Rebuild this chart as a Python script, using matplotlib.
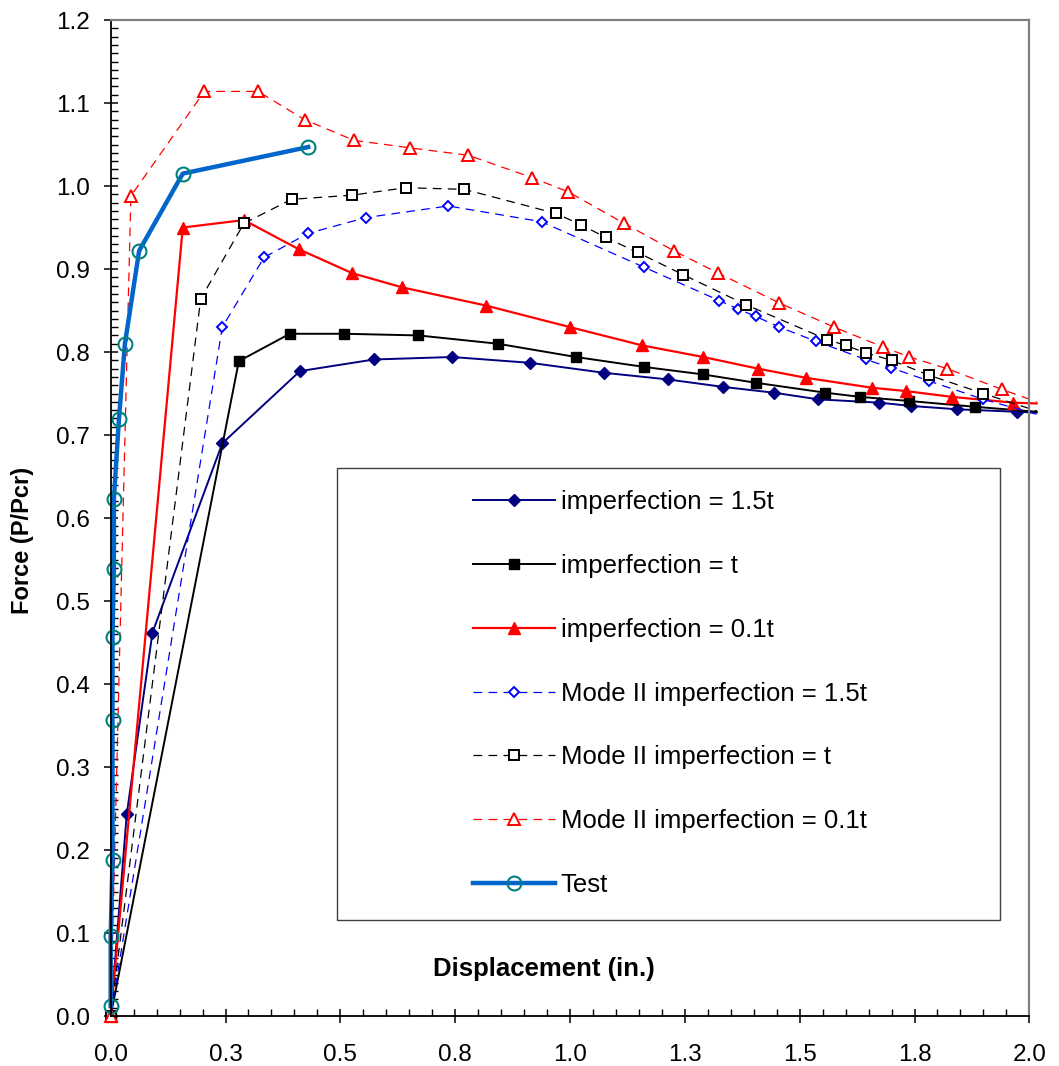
"""Load-displacement curves: FE imperfection cases vs. test."""

import matplotlib

matplotlib.use("Agg")
import matplotlib.pyplot as plt
from matplotlib.patches import Rectangle
from matplotlib.ticker import FixedLocator, MultipleLocator, FormatStrFormatter

plt.rcParams["font.family"] = ["Liberation Sans", "DejaVu Sans"]

# data (x: displacement in., y: P/Pcr)
imp15_x = [0.0, 0.035, 0.091, 0.243, 0.412, 0.573, 0.743, 0.913, 1.074, 1.213,
           1.333, 1.444, 1.540, 1.673, 1.743, 1.843, 1.973, 2.016]
imp15_y = [0.0, 0.243, 0.462, 0.690, 0.777, 0.791, 0.794, 0.787, 0.775, 0.767,
           0.758, 0.751, 0.743, 0.739, 0.735, 0.731, 0.728, 0.727]

imp1_x = [0.0, 0.279, 0.390, 0.509, 0.670, 0.843, 1.013, 1.162, 1.290, 1.404,
          1.556, 1.631, 1.739, 1.882, 2.016]
imp1_y = [0.0, 0.789, 0.822, 0.822, 0.820, 0.810, 0.794, 0.782, 0.773, 0.763,
          0.751, 0.746, 0.741, 0.734, 0.728]

imp01_x = [0.0, 0.157, 0.290, 0.409, 0.526, 0.634, 0.817, 1.000, 1.157, 1.290,
           1.409, 1.513, 1.657, 1.731, 1.831, 1.965, 2.016]
imp01_y = [0.0, 0.950, 0.959, 0.924, 0.895, 0.878, 0.856, 0.830, 0.808, 0.794,
           0.780, 0.769, 0.757, 0.753, 0.746, 0.739, 0.738]

m2_15_x = [0.0, 0.243, 0.334, 0.430, 0.556, 0.735, 0.938, 1.162, 1.325, 1.365,
           1.404, 1.456, 1.535, 1.644, 1.699, 1.782, 1.900, 2.016]
m2_15_y = [0.0, 0.830, 0.914, 0.943, 0.962, 0.976, 0.957, 0.902, 0.862, 0.852,
           0.843, 0.830, 0.813, 0.791, 0.781, 0.765, 0.743, 0.725]

m2_1_x = [0.0, 0.196, 0.290, 0.394, 0.526, 0.643, 0.770, 0.969, 1.025, 1.078,
          1.147, 1.247, 1.383, 1.560, 1.600, 1.644, 1.700, 1.782, 1.900, 2.016]
m2_1_y = [0.0, 0.864, 0.955, 0.984, 0.989, 0.998, 0.996, 0.967, 0.953, 0.938,
          0.920, 0.893, 0.857, 0.815, 0.808, 0.799, 0.790, 0.772, 0.750, 0.729]

m2_01_x = [0.0, 0.044, 0.204, 0.321, 0.422, 0.530, 0.652, 0.779, 0.918, 0.996,
           1.118, 1.226, 1.323, 1.456, 1.575, 1.682, 1.739, 1.821, 1.940, 2.016]
m2_01_y = [0.0, 0.988, 1.114, 1.114, 1.080, 1.055, 1.046, 1.037, 1.010, 0.993,
           0.955, 0.922, 0.895, 0.859, 0.830, 0.806, 0.794, 0.780, 0.755, 0.740]

test_x = [0.0, 0.0, 0.004, 0.004, 0.004, 0.007, 0.007, 0.018, 0.031, 0.062,
          0.157, 0.430]
test_y = [0.012, 0.096, 0.188, 0.357, 0.457, 0.539, 0.623, 0.719, 0.810, 0.922,
          1.015, 1.047]

x_ticks = [0.0, 0.25, 0.5, 0.75, 1.0, 1.25, 1.5, 1.75, 2.0]
x_tick_labels = ["0.0", "0.3", "0.5", "0.8", "1.0", "1.3", "1.5", "1.8", "2.0"]

labels = [
    "imperfection = 1.5t",
    "imperfection = t",
    "imperfection = 0.1t",
    "Mode II imperfection = 1.5t",
    "Mode II imperfection = t",
    "Mode II imperfection = 0.1t",
    "Test",
]

fig = plt.figure(figsize=(10.59, 10.66), dpi=100)
ax = fig.add_axes([0.1045, 0.0469, 0.8675, 0.9343])

dash = (7, 5)
# fem series run slightly past x=2.0 like the Excel original; no marker on that last point
common = dict(clip_on=False)
ax.plot(imp15_x, imp15_y, color="#000080", lw=1.4, marker="D", ms=6.5,
        markevery=slice(0, -1), label=labels[0], **common)
ax.plot(imp1_x, imp1_y, color="black", lw=1.4, marker="s", ms=7.5,
        markevery=slice(0, -1), label=labels[1], **common)
ax.plot(imp01_x, imp01_y, color="#FF0000", lw=1.6, marker="^", ms=9,
        markevery=slice(0, -1), label=labels[2], **common)
ax.plot(m2_15_x, m2_15_y, color="#0000FF", lw=0.9, ls=(0, dash), marker="D",
        ms=5.5, mfc="white", mew=1.4, markevery=slice(0, -1), label=labels[3], **common)
ax.plot(m2_1_x, m2_1_y, color="black", lw=0.9, ls=(0, dash), marker="s",
        ms=7, mfc="white", mew=1.4, markevery=slice(0, -1), label=labels[4], **common)
ax.plot(m2_01_x, m2_01_y, color="#FF0000", lw=0.9, ls=(0, dash), marker="^",
        ms=8.5, mfc="white", mew=1.4, markevery=slice(0, -1), label=labels[5], **common)
ax.plot(test_x, test_y, color="#0066CC", lw=3.2, marker="o", ms=10,
        mfc="none", mec="#008080", mew=1.5, label=labels[6], **common)

ax.set_xlim(0, 2.0)
ax.set_ylim(0, 1.2)

ax.xaxis.set_major_locator(FixedLocator(x_ticks))
ax.set_xticklabels(x_tick_labels)
ax.xaxis.set_minor_locator(MultipleLocator(0.05))
ax.yaxis.set_major_locator(MultipleLocator(0.1))
ax.yaxis.set_major_formatter(FormatStrFormatter("%.1f"))
ax.yaxis.set_minor_locator(MultipleLocator(0.01))

ax.tick_params(which="major", direction="inout", length=10, width=1.1,
               labelsize=17.5, color="black")
ax.tick_params(which="minor", direction="in", length=5, width=1.0, color="black")
ax.tick_params(axis="x", which="major", pad=15)
ax.tick_params(axis="y", which="major", pad=10)

for side in ("left", "bottom"):
    ax.spines[side].set_color("black")
    ax.spines[side].set_linewidth(1.3)
for side in ("top", "right"):
    ax.spines[side].set_color("#808080")
    ax.spines[side].set_linewidth(1.6)

ax.text(0.4717, 0.0472, "Displacement (in.)", transform=ax.transAxes,
        ha="center", va="center", fontsize=18.5, fontweight="bold")
fig.text(23 / 1059, 1 - 540 / 1066, "Force (P/Pcr)", rotation=90,
         ha="center", va="center", fontsize=17, fontweight="bold")

# legend frame is wider than its contents in the original, so draw it separately
ax.add_patch(Rectangle((0.2464, 0.0964), 0.7216, 0.4536, transform=ax.transAxes,
                       fill=False, edgecolor="#404040", lw=1.0, zorder=5))
ax.legend(loc="upper left", bbox_to_anchor=(0.394, 0.528), frameon=False,
          fontsize=18.5, handlelength=3.2, handletextpad=0.23, labelspacing=1.55,
          borderpad=0, borderaxespad=0)

fig.savefig("out.png", dpi=100)
